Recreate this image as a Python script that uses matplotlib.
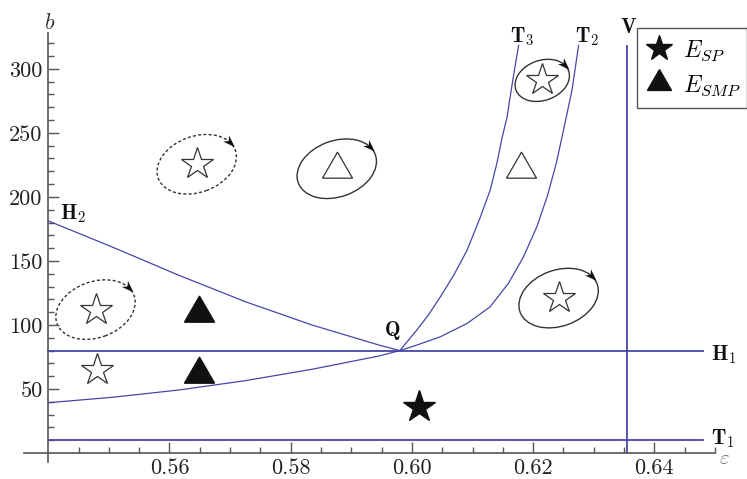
import numpy as np
import matplotlib
matplotlib.use("Agg")
import matplotlib.pyplot as plt
from matplotlib.patches import Ellipse, Polygon
from matplotlib.transforms import ScaledTranslation
from matplotlib.lines import Line2D

plt.rcParams["font.family"] = "serif"
plt.rcParams["font.serif"] = ["cmr10"]
plt.rcParams["mathtext.fontset"] = "cm"
plt.rcParams["axes.formatter.use_mathtext"] = True

# bifurcation curves (epsilon, b)
h2_eps = [0.5400, 0.5505, 0.5615, 0.5725, 0.5835, 0.5945, 0.5980]
h2_b = [181.3, 161.0, 138.9, 118.2, 100.0, 84.4, 80.0]

# lower branch running into T2
t2_eps = [0.5400, 0.5505, 0.5615, 0.5725, 0.5835, 0.5945, 0.5980,
          0.6008, 0.6047, 0.6091, 0.6129, 0.6159, 0.6184, 0.6206,
          0.6223, 0.6238, 0.6250, 0.6264, 0.6275]
t2_b = [39.3, 43.5, 49.2, 56.5, 65.4, 75.7, 80.0,
        84.3, 90.8, 101.2, 114.2, 132.4, 153.2, 176.6,
        200.0, 226.0, 252.0, 283.2, 318.3]

t3_eps = [0.5980, 0.6008, 0.6027, 0.6047, 0.6069, 0.6091, 0.6113,
          0.6129, 0.6140, 0.6149, 0.6157, 0.6162, 0.6169, 0.6176]
t3_b = [80.0, 96.0, 107.7, 122.0, 138.9, 158.4, 184.4,
        205.2, 226.0, 246.8, 262.4, 278.0, 298.8, 318.3]

h1_b = 80
t1_b = 10
line_eps = [0.54, 0.6481]
v_eps = 0.6355
v_b = [0, 318]

# equilibria
open_star_eps = [0.5478, 0.5480, 0.5645, 0.6215, 0.6242]
open_star_b = [112.0, 65.0, 225.5, 291.0, 121.0]
open_tri_eps = [0.5876, 0.6180]
open_tri_b = [222.0, 222.0]
full_tri_eps = [0.5648, 0.5648]
full_tri_b = [109.5, 61.5]
full_star_eps = [0.6011]
full_star_b = [36.0]

# limit cycles drawn around some equilibria: (list, index)
dashed_cycles = [("star", 0), ("star", 2)]
solid_cycles = [("tri", 0), ("star", 3), ("star", 4)]

blue = "#4646a8"
grey = "#555555"

fig = plt.figure(figsize=(7.47, 4.79), dpi=100)
ax = fig.add_axes([24 / 747, 1 - 462 / 479, (715 - 24) / 747, (462 - 33) / 479])
ax.set_xlim(0.536, 0.65)
ax.set_ylim(-7, 328)

for s in ["top", "right"]:
    ax.spines[s].set_visible(False)
ax.spines["left"].set_position(("data", 0.54))
ax.spines["bottom"].set_position(("data", 0))
for s in ["left", "bottom"]:
    ax.spines[s].set_color(grey)
    ax.spines[s].set_linewidth(1.2)

ax.set_xticks([0.56, 0.58, 0.60, 0.62, 0.64])
ax.set_xticklabels(["0.56", "0.58", "0.60", "0.62", "0.64"])
ax.set_xticks(np.arange(0.545, 0.6501, 0.005), minor=True)
ax.set_yticks([50, 100, 150, 200, 250, 300])
ax.set_yticklabels(["50", "100", "150", "200", "250", "300"])
ax.set_yticks(np.arange(10, 321, 10), minor=True)
ax.tick_params(which="both", direction="in", color=grey, width=1.0,
               labelsize=16, labelcolor="#222222")
ax.tick_params(which="major", length=8, pad=4)
ax.tick_params(which="minor", length=4.5)

# curves
ax.plot(h2_eps, h2_b, color=blue, lw=0.9)
ax.plot(t2_eps, t2_b, color=blue, lw=0.9)
ax.plot(t3_eps, t3_b, color=blue, lw=0.9)
ax.plot(line_eps, [h1_b, h1_b], color=blue, lw=1.3)
ax.plot(line_eps, [t1_b, t1_b], color=blue, lw=1.3)
ax.plot([v_eps, v_eps], v_b, color=blue, lw=1.3)

# markers
ax.plot(open_star_eps, open_star_b, ls="none", marker="*", ms=24,
        mfc="white", mec="#333333", mew=0.9)
ax.plot(open_tri_eps, open_tri_b, ls="none", marker=(3, 0, 0), ms=25,
        mfc="white", mec="#333333", mew=0.9)
ax.plot(full_tri_eps, full_tri_b, ls="none", marker=(3, 0, 0), ms=25,
        color="#111111")
ax.plot(full_star_eps, full_star_b, ls="none", marker="*", ms=24,
        color="#111111")


def cycle(cx, cy, a, b, style):
    # ellipse in pixel units (inches at 100 dpi) centred on a data point
    tr = fig.dpi_scale_trans + ScaledTranslation(cx, cy, ax.transData)
    tilt = 20
    ang = np.deg2rad(tilt)
    e = Ellipse((0, 0), 2 * a / 100, 2 * b / 100, angle=tilt, fill=False,
                ec="#333333", lw=1.0, ls=style, transform=tr)
    ax.add_patch(e)
    t = np.deg2rad(18)
    rot = np.array([[np.cos(ang), -np.sin(ang)], [np.sin(ang), np.cos(ang)]])
    p = rot @ np.array([a * np.cos(t), b * np.sin(t)]) / 100
    d = rot @ np.array([a * np.sin(t), -b * np.cos(t)])
    d = d / np.hypot(*d)
    n = np.array([-d[1], d[0]])
    L, W = 0.12, 0.085
    pts = [p + d * L * 0.5, p - d * L * 0.5 + n * W / 2,
           p - d * L * 0.2, p - d * L * 0.5 - n * W / 2]
    ax.add_patch(Polygon(pts, closed=True, fc="#111111", ec="none",
                         transform=tr))


def center(kind, i):
    if kind == "star":
        return open_star_eps[i], open_star_b[i]
    return open_tri_eps[i], open_tri_b[i]


for kind, i in dashed_cycles:
    cx, cy = center(kind, i)
    cycle(cx, cy, 41, 28, (0, (2.2, 1.6)))
for kind, i in solid_cycles:
    cx, cy = center(kind, i)
    if cy > 280:
        cycle(cx, cy, 28, 20, "-")
    else:
        cycle(cx, cy, 41, 28, "-")

# labels
lab = dict(fontsize=15, color="#111111")
ax.text(0.542, 186.5, r"$\mathbf{H}_{\mathbf{2}}$", ha="left", va="center", **lab)
ax.text(0.5967, 96, r"$\mathbf{Q}$", ha="center", va="center", **lab)
ax.text(0.6182, 325, r"$\mathbf{T}_{\mathbf{3}}$", ha="center", va="center",
        clip_on=False, **lab)
ax.text(0.6289, 325, r"$\mathbf{T}_{\mathbf{2}}$", ha="center", va="center",
        clip_on=False, **lab)
ax.text(0.6357, 332, r"$\mathbf{V}$", ha="center", va="center",
        clip_on=False, **lab)
ax.text(0.6493, 77, r"$\mathbf{H}_{\mathbf{1}}$", ha="left", va="center",
        clip_on=False, **lab)
ax.text(0.6493, 11.5, r"$\mathbf{T}_{\mathbf{1}}$", ha="left", va="center",
        clip_on=False, **lab)
ax.text(0.6507, -5, r"$\varepsilon$", ha="left", va="center",
        fontsize=15, color="#777777", clip_on=False)
ax.text(0.5403, 336, r"$b$", ha="center", va="center", fontsize=16,
        color="#333333", clip_on=False)

handles = [Line2D([], [], ls="none", marker="*", ms=19, color="#111111"),
           Line2D([], [], ls="none", marker=(3, 0, 0), ms=20, color="#111111")]
leg = fig.legend(handles, [r"$E_{SP}$", r"$E_{SMP}$"], loc="upper left",
                 bbox_to_anchor=(636.7 / 747, 1 - 27.7 / 479, 110 / 747, 0.0),
                 mode="expand", borderaxespad=0, fontsize=17, fancybox=False,
                 framealpha=1, edgecolor="#555555", handlelength=1.0,
                 handletextpad=0.5, labelspacing=0.45, borderpad=0.45)
leg.get_frame().set_linewidth(1.0)

fig.savefig("out.png", dpi=100)
